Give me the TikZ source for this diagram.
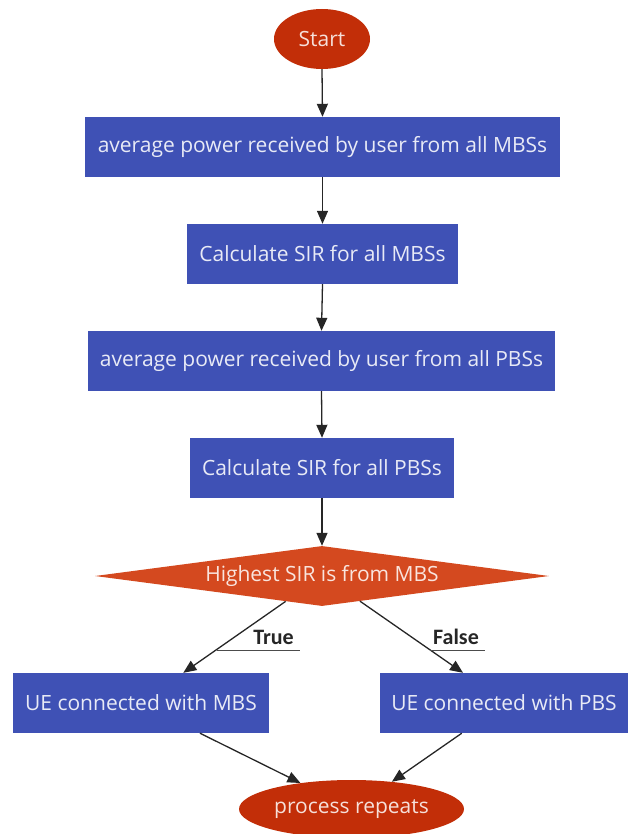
\documentclass[tikz,border=0pt]{standalone}
\usepackage{fontspec}
\setmainfont{Open Sans}
\newfontfamily\lblfont{Carlito}
\usetikzlibrary{shapes.geometric,arrows.meta,calc}
\definecolor{boxblue}{HTML}{3F51B5}
\definecolor{termred}{HTML}{C22E08}
\definecolor{decred}{HTML}{D4491F}
\begin{document}
\begin{tikzpicture}[x=1pt,y=-1pt,
  every node/.style={inner sep=0pt,font=\fontsize{21}{25}\selectfont},
  procbox/.style={rectangle,fill=boxblue,text=white!88!boxblue,minimum height=60pt},
  term/.style={ellipse,fill=termred,text=white!85!termred},
  decision/.style={diamond,fill=decred,text=white!85!decred,aspect=7.5,minimum width=454pt,minimum height=60pt},
  flow/.style={draw=black!85,line width=1.3pt,-{Triangle[length=13pt,width=11pt]}},
  branchlbl/.style={font=\lblfont\fontsize{22}{26}\selectfont\bfseries,text=black!85},
  rule/.style={draw=black!70,line width=1pt}]
\useasboundingbox (0,0) rectangle (627,834);

\node[term,minimum width=96pt,minimum height=60pt] (start) at (322,39) {Start};
\node[procbox,minimum width=475pt] (b1) at (322.5,147) {average power received by user from all MBSs};
\node[procbox,minimum width=271pt] (b2) at (322.5,254) {Calculate SIR for all MBSs};
\node[procbox,minimum width=467pt] (b3) at (321.5,361) {average power received by user from all PBSs};
\node[procbox,minimum width=264pt] (b4) at (322,468) {Calculate SIR for all PBSs};
\node[decision] (dec) at (322,576) {Highest SIR is from MBS};
\node[procbox,minimum width=256pt] (ue1) at (141,703) {UE connected with MBS};
\node[procbox,minimum width=248pt] (ue2) at (504,703) {UE connected with PBS};
\node[term,minimum width=225pt,minimum height=58pt] (rep) at (351.5,809) {process repeats};

\draw[flow] (start.south) -- (b1.north);
\draw[flow] (b1.south) -- (b2.north);
\draw[flow] (b2.south) -- (b3.north);
\draw[flow] (b3.south) -- (b4.north);
\draw[flow] (b4.south) -- (dec.north);

\draw[flow] ($(dec.south)!0.16!(dec.west)$) -- ($(ue1.north)!0.33!(ue1.north east)$);
\draw[flow] ($(dec.south)!0.167!(dec.east)$) -- ($(ue2.north)!0.33!(ue2.north west)$);

\node[branchlbl] (tlbl) at (273.5,637) {True};
\coordinate (tl1) at (217,650);
\coordinate (tl2) at (300,650);
\draw[rule] (tl1) -- (tl2);
\node[branchlbl] (flbl) at (456,637) {False};
\coordinate (fl1) at (430,650);
\coordinate (fl2) at (485,650);
\draw[rule] (fl1) -- (fl2);

\draw[flow] ($(ue1.south)!0.46!(ue1.south east)$) -- (rep.153);
\draw[flow] ($(ue2.south)!0.34!(ue2.south west)$) -- (rep.34);
\end{tikzpicture}
\end{document}
